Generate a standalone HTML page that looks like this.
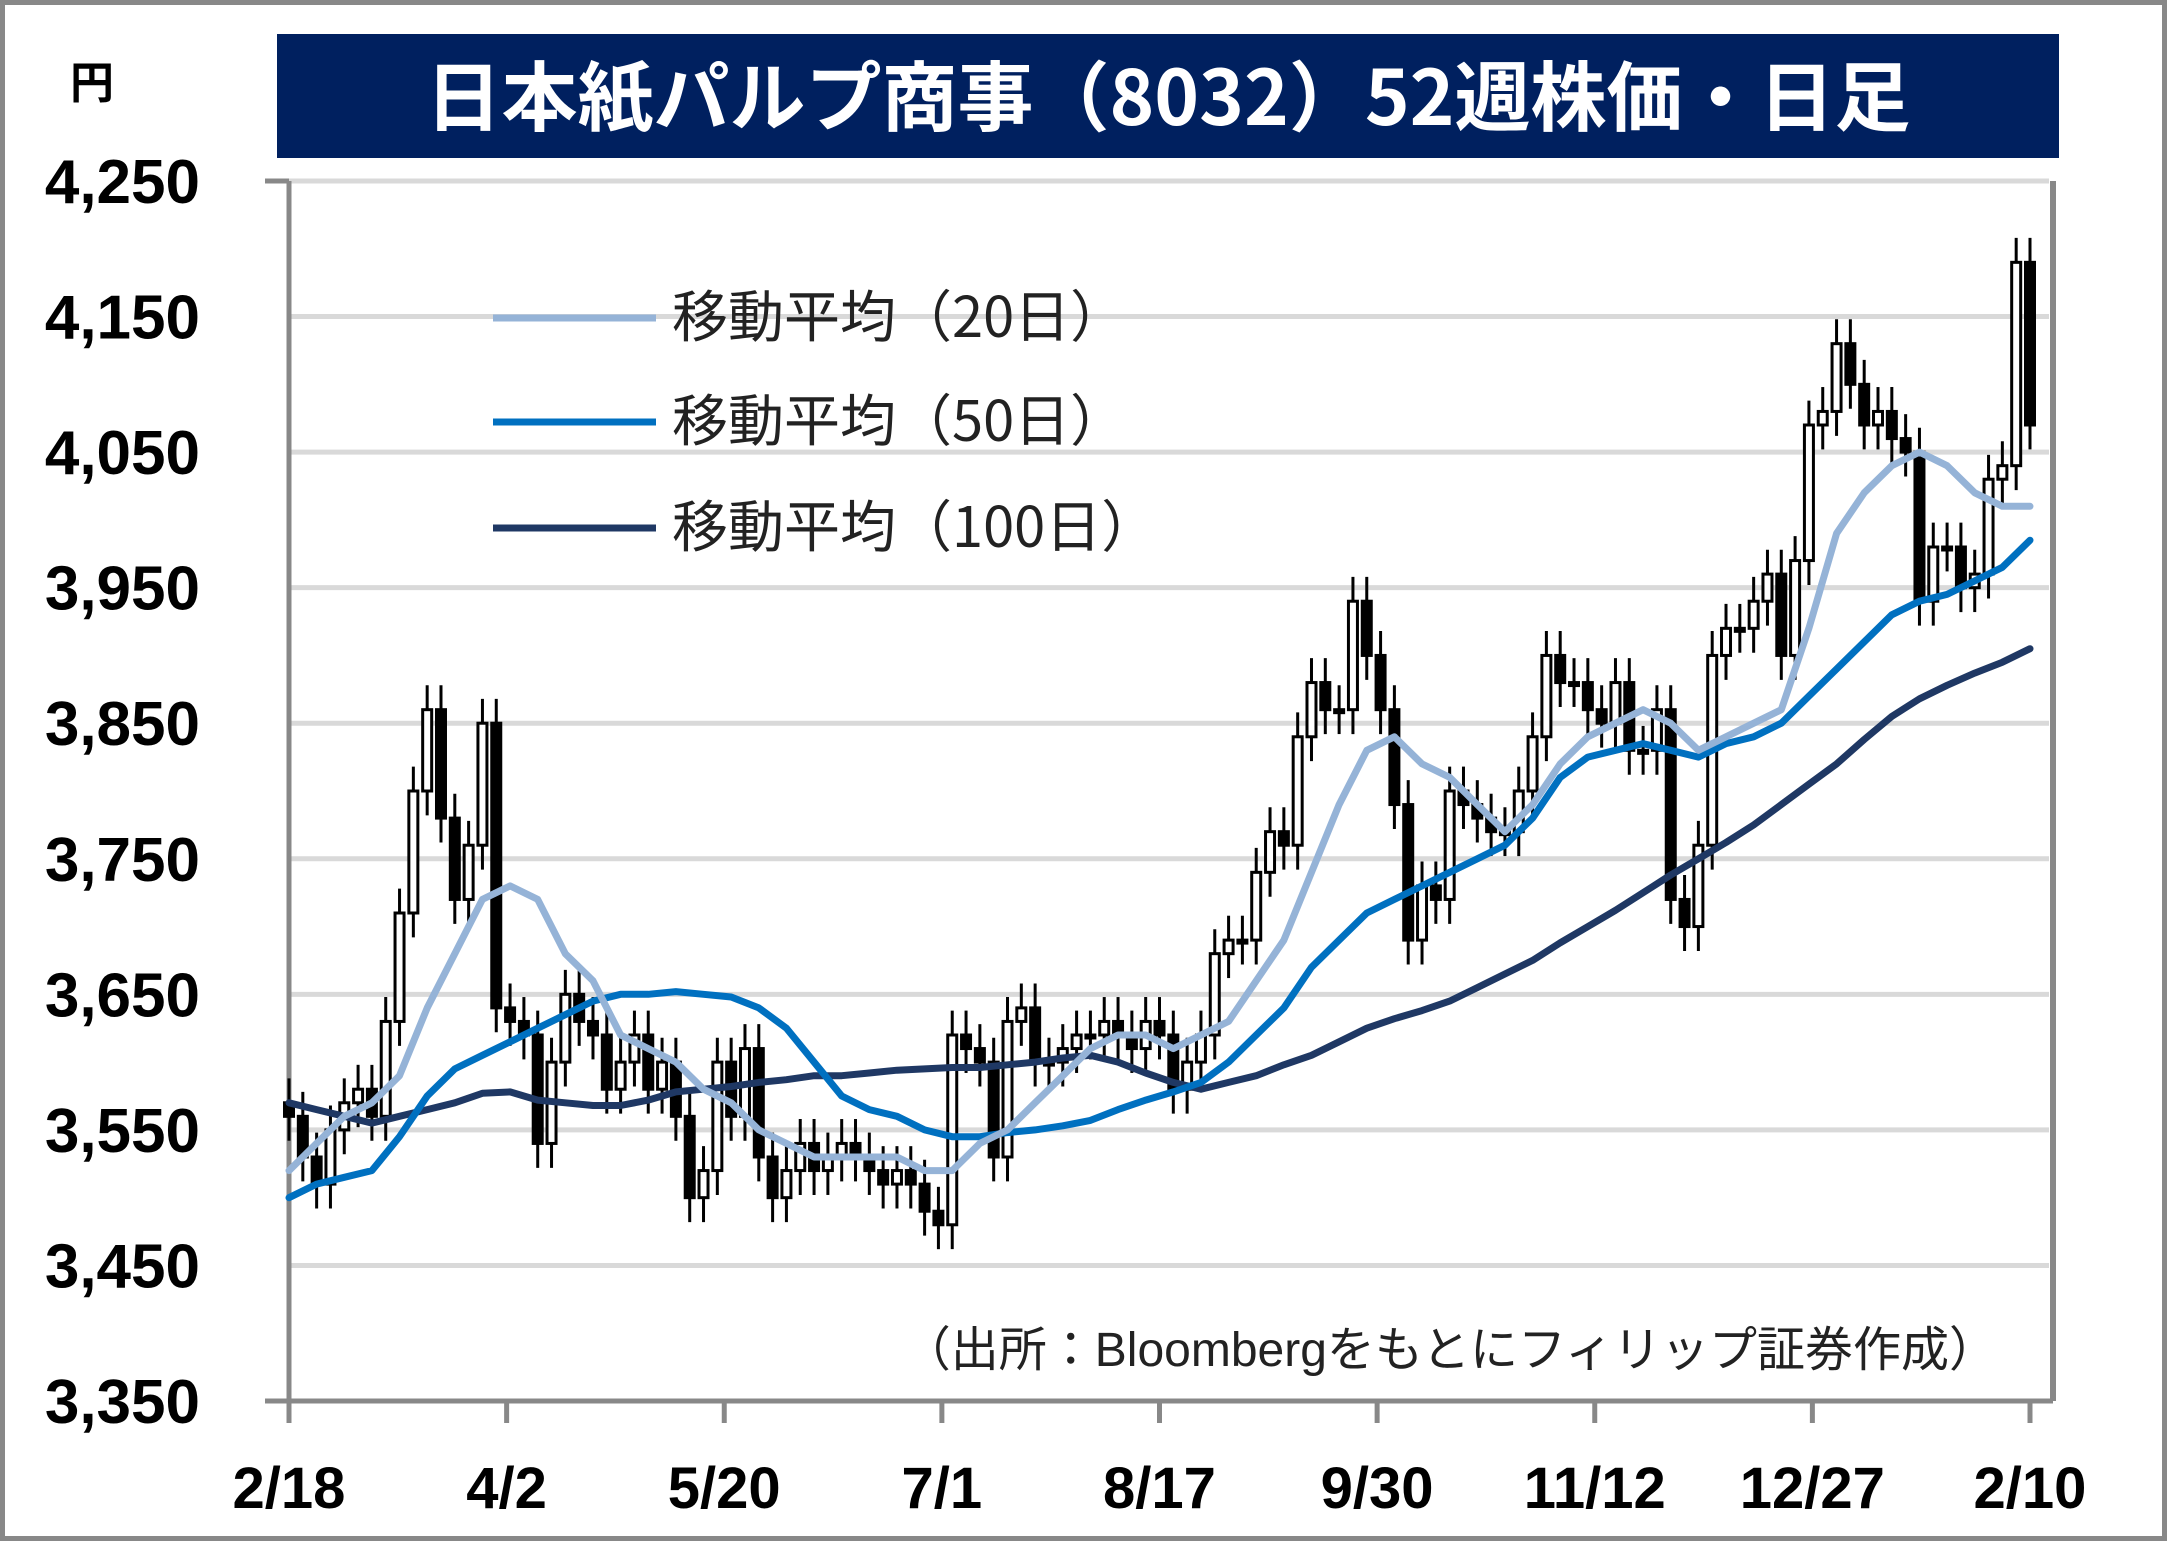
<!DOCTYPE html>
<html><head><meta charset="utf-8"><style>
html,body{margin:0;padding:0;background:#fff}
body{width:2167px;height:1541px;position:relative;overflow:hidden;font-family:"Liberation Sans","Noto Sans CJK JP",sans-serif}
</style></head><body>
<svg id="chart" width="2167" height="1541" viewBox="0 0 2167 1541" xmlns="http://www.w3.org/2000/svg">
<rect x="2.5" y="2.5" width="2162" height="1536" fill="#fff" stroke="#888" stroke-width="5"/>
<rect x="277" y="34" width="1782" height="124" fill="#00205f"/>
<text x="1168" y="125" text-anchor="middle" font-family="'Noto Sans CJK JP',sans-serif" font-weight="bold" font-size="76" fill="#fff">日本紙パルプ商事（8032）52週株価・日足</text>
<text x="92" y="98" text-anchor="middle" font-family="'Noto Sans CJK JP',sans-serif" font-weight="bold" font-size="44" fill="#000">円</text>
<g id="grid"></g><g id="axes"></g><g id="candles"></g><g id="mas"></g>
<g font-family="'Noto Sans CJK JP',sans-serif" font-size="56" fill="#222">
<line x1="493" y1="318" x2="656" y2="318" stroke="#95b3d7" stroke-width="7"/>
<text x="672" y="337">移動平均（20日）</text>
<line x1="493" y1="422" x2="656" y2="422" stroke="#0070c0" stroke-width="7"/>
<text x="672" y="441">移動平均（50日）</text>
<line x1="493" y1="528" x2="656" y2="528" stroke="#1f3864" stroke-width="7"/>
<text x="672" y="547">移動平均（100日）</text>
</g>
<text x="1997" y="1366" text-anchor="end" font-family="'Liberation Sans','Noto Sans CJK JP',sans-serif" font-size="48" fill="#222">（出所：Bloombergをもとにフィリップ証券作成）</text>
</svg>
<script>
const yTicks=[4250,4150,4050,3950,3850,3750,3650,3550,3450,3350];
const yTickLabels=["4,250","4,150","4,050","3,950","3,850","3,750","3,650","3,550","3,450","3,350"];
const xTickLabels=["2/18","4/2","5/20","7/1","8/17","9/30","11/12","12/27","2/10"];
const closes=[3560,3530,3510,3550,3570,3580,3560,3630,3710,3800,
3860,3780,3720,3760,3850,3640,3630,3620,3540,3600,
3650,3630,3620,3580,3600,3620,3580,3600,3560,3500,
3520,3600,3560,3610,3530,3500,3520,3540,3520,3530,
3540,3530,3520,3510,3520,3510,3490,3480,3620,3610,
3600,3530,3630,3640,3600,3600,3610,3620,3620,3630,
3620,3610,3630,3620,3580,3600,3620,3680,3690,3690,
3740,3770,3760,3840,3880,3860,3860,3940,3900,3860,
3790,3690,3730,3720,3800,3790,3780,3770,3770,3800,
3840,3900,3880,3880,3860,3850,3880,3830,3830,3860,
3720,3700,3760,3900,3920,3920,3940,3960,3900,3970,
4070,4080,4130,4100,4070,4080,4060,4050,3940,3980,
3980,3950,3960,4030,4040,4190,4070];
const ma20=[3520,3540,3560,3570,3590,3640,3680,3720,3730,3720,3680,3660,3620,3610,3600,3580,3570,3550,3540,3530,3530,3530,3530,3520,3520,3540,3550,3570,3590,3610,3620,3620,3610,3620,3630,3660,3690,3740,3790,3830,3840,3820,3810,3790,3770,3790,3820,3840,3850,3860,3850,3830,3840,3850,3860,3920,3990,4020,4040,4050,4040,4020,4010,4010];
const ma50=[3500,3510,3515,3520,3545,3575,3595,3605,3615,3625,3635,3645,3650,3650,3652,3650,3648,3640,3625,3600,3575,3565,3560,3550,3545,3545,3548,3550,3553,3557,3565,3572,3578,3585,3600,3620,3640,3670,3690,3710,3720,3730,3740,3750,3760,3780,3810,3825,3830,3835,3830,3825,3835,3840,3850,3870,3890,3910,3930,3940,3945,3955,3965,3985];
const ma100=[3570,3565,3560,3555,3560,3565,3570,3577,3578,3572,3570,3568,3568,3572,3578,3580,3582,3585,3587,3590,3590,3592,3594,3595,3596,3596,3598,3600,3603,3605,3600,3592,3585,3580,3585,3590,3598,3605,3615,3625,3632,3638,3645,3655,3665,3675,3688,3700,3712,3725,3738,3750,3762,3775,3790,3805,3820,3838,3855,3868,3878,3887,3895,3905];

const NS="http://www.w3.org/2000/svg";
const L=289,R=2053,X0=289,X1=2030,TOP=181,BOT=1401,YMAX=4250,YMIN=3350;
function yS(v){return TOP+(YMAX-v)/(YMAX-YMIN)*(BOT-TOP);}
function xS(i,n){return X0+i*(X1-X0)/(n-1);}
function mk(tag,attrs,parent){const e=document.createElementNS(NS,tag);for(const k in attrs)e.setAttribute(k,attrs[k]);parent.appendChild(e);return e;}
const grid=document.getElementById('grid'),axes=document.getElementById('axes');
yTicks.forEach((v,i)=>{
  if(v>YMIN){const g=mk('line',{x1:L,x2:R-4,y1:yS(v),y2:yS(v),stroke:'#d9d9d9','stroke-width':5},grid);
  
  }
  const t=mk('text',{x:200,y:yS(v)+22,'text-anchor':'end','font-weight':'bold','font-size':62,fill:'#000'},axes);
  t.textContent=yTickLabels[i];
  
  
});
let a=mk('line',{x1:L,x2:L,y1:TOP,y2:BOT+22,stroke:'#888','stroke-width':5},axes);


a=mk('line',{x1:R,x2:R,y1:TOP,y2:BOT,stroke:'#888','stroke-width':6},axes);


a=mk('line',{x1:265,x2:R,y1:BOT,y2:BOT,stroke:'#888','stroke-width':5},axes);


mk('line',{x1:265,x2:L,y1:TOP,y2:TOP,stroke:'#888','stroke-width':5},axes);
xTickLabels.forEach((s,i)=>{
  const x=xS(i,xTickLabels.length);
  const tk=mk('line',{x1:x,x2:x,y1:BOT,y2:BOT+22,stroke:'#888','stroke-width':5},axes);
  
  
  const t=mk('text',{x:x,y:1508,'text-anchor':'middle','font-weight':'bold','font-size':58,fill:'#000'},axes);
  t.textContent=s;
  
  
});
const cg=document.getElementById('candles');
const N=closes.length,bw=9;
closes.forEach((c,i)=>{
  const o=i===0?c+10:closes[i-1];
  const hi=Math.max(o,c)+18,lo=Math.min(o,c)-18;
  const x=xS(i,N);
  const w=mk('line',{x1:x,x2:x,y1:yS(hi),y2:yS(lo),stroke:'#000','stroke-width':3},cg);
  
  
  const top=yS(Math.max(o,c)),h=Math.max(3,yS(Math.min(o,c))-top);
  const b=mk('rect',{x:x-bw/2,y:top,width:bw,height:h,fill:c>=o?'#fff':'#000',stroke:'#000','stroke-width':3},cg);
  
  
});
const mg=document.getElementById('mas');
[[ma100,'#1f3864','ma100-line'],[ma50,'#0070c0','ma50-line'],[ma20,'#95b3d7','ma20-line']].forEach(([arr,col,name])=>{
  const d=arr.map((v,i)=>(i?'L':'M')+xS(i,arr.length).toFixed(1)+','+yS(v).toFixed(1)).join(' ');
  const p=mk('path',{d:d,fill:'none',stroke:col,'stroke-width':7,'stroke-linejoin':'round','stroke-linecap':'round'},mg);
  
  
});
</script>
</body></html>
